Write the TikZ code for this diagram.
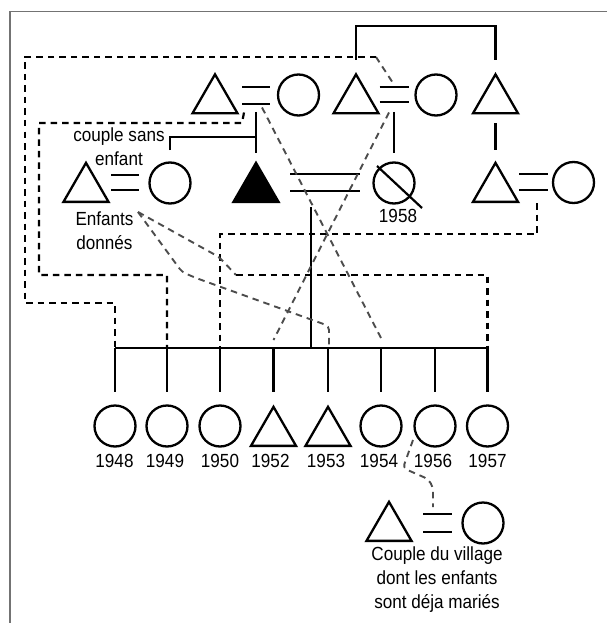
\documentclass[tikz,border=0pt]{standalone}
\usepackage{fontspec}
\setmainfont{Liberation Sans}
\newfontfamily\condfont[FakeStretch=0.9]{Liberation Sans}
\usetikzlibrary{shapes.geometric,calc}
\begin{document}
\begin{tikzpicture}[x=1pt,y=-1pt,
  shp/.style={draw,line width=2.3pt,inner sep=0pt},
  tri/.style={shp,regular polygon,regular polygon sides=3,minimum size=52pt,anchor=side 2},
  ftri/.style={tri,fill=black},
  cir/.style={shp,circle,minimum size=41pt},
  sol/.style={line width=2.2pt},
  dsh/.style={line width=2.2pt,dash pattern=on 6.5pt off 5pt},
  gdsh/.style={line width=1.9pt,black!70,dash pattern=on 6.5pt off 5pt,rounded corners=4pt},
  lbl/.style={font=\condfont\fontsize{19}{24}\selectfont,inner sep=0pt,align=center},
  yr/.style={font=\condfont\fontsize{19}{20}\selectfont,inner sep=0pt,anchor=base},
  framel/.style={line width=1.6pt,black!55}]
\useasboundingbox (0,0) rectangle (607,623);
% frame
\coordinate (fTL) at (10,11.5);
\coordinate (fTR) at (607,11.5);
\coordinate (fBL) at (10,623);
\draw[framel] (fTR) -- (fTL) -- (fBL);

% generation 1
\node[tri] (gf1) at (215,114.5) {};
\node[cir] (gm1) at (298.5,95) {};
\node[tri] (gf2) at (356,114.5) {};
\node[cir] (gm2) at (436,95) {};
\node[tri] (gu) at (495.5,114.5) {};
\coordinate (m1) at (256,95.5);
\coordinate (m2) at (394,94.5);

% generation 2
\node[tri] (lt) at (86,203) {};
\node[cir] (lc) at (170,183) {};
\node[ftri] (ego) at (256,203) {};
\node[cir] (mc) at (394,183) {};
\node[tri] (rt) at (495.5,203) {};
\node[cir] (rc) at (573.5,182.5) {};
\coordinate (mL) at (125,182.5);
\coordinate (mE) at (325,182.5);
\coordinate (mR) at (533.5,182);
\draw[line width=2.2pt] ($(mc)+(-17,-17)$) -- ($(mc)+(28,25)$);
\node[yr] (y58) at (398,222) {1958};

% labels
\node[lbl] (csans) at (119,147) {couple sans\\enfant};
\node[lbl] (enf) at (104.5,230.5) {Enfants\\donnés};

% children
\node[cir] (c48) at (115,426) {};
\node[cir] (c49) at (167,426) {};
\node[cir] (c50) at (220,426) {};
\node[tri] (c52) at (273.5,447) {};
\node[tri] (c53) at (328,447) {};
\node[cir] (c54) at (381,426) {};
\node[cir] (c56) at (435,426) {};
\node[cir] (c57) at (487.5,426) {};
\node[yr] (l48) at (114.5,467) {1948};
\node[yr] (l49) at (165,467) {1949};
\node[yr] (l50) at (220,467) {1950};
\node[yr] (l52) at (270.5,467) {1952};
\node[yr] (l53) at (326,467) {1953};
\node[yr] (l54) at (379,467) {1954};
\node[yr] (l56) at (433,467) {1956};
\node[yr] (l57) at (487.5,467) {1957};

% village couple
\node[tri] (vt) at (389,542) {};
\node[cir] (vc) at (483,523) {};
\coordinate (mV) at (437.5,523);
\node[lbl] (vtxt) at (437,579.5) {Couple du village\\dont les enfants\\sont déja mariés};

% marriage signs
\foreach \m/\w/\d in {m1/14/8.5, m2/14.5/7.5, mL/14/7.5, mE/35/8.5, mR/14.5/8, mV/14.5/9}{
  \draw[sol] ($(\m)+(-\w,-\d)$) -- ($(\m)+(\w,-\d)$);
  \draw[sol] ($(\m)+(-\w,\d)$) -- ($(\m)+(\w,\d)$);
}

% solid descent lines
\draw[sol] (gf2 |- 0,60) -- (gf2 |- 0,26) -- (gu |- 0,26) -- (gu |- 0,60);
\draw[sol] (gu |- 0,123) -- (rt |- 0,150);
\draw[sol] (m1 |- 0,112) -- (ego |- 0,153);
\draw[sol] (lc |- 0,150) -- (lc |- 0,137) -- (ego |- 0,137);
\draw[sol] (m2 |- 0,112) -- (mc |- 0,153);
\coordinate (sibL) at (115,348);
\coordinate (sibR) at (487.5,348);
\coordinate (dE) at (311,207);
\draw[sol] (sibL) -- (sibR);
\draw[sol] (dE) -- (dE |- sibL);
\foreach \c in {c48,c49,c50,c52,c53,c54,c56,c57}{
  \draw[sol] (\c |- sibL) -- (\c |- 0,392);
}

% adoption lines (dashed)
\coordinate (o1) at (376,57);
\draw[gdsh] ($(m2)+(-2,-13)$) -- (o1);
\draw[dsh] (o1) -- (25,57) -- (25,303) -- (c48 |- 0,303) -- (c48 |- sibL);
\draw[dsh] ($(m1)+(-12,17)$) -- (242,123) -- (39,123) -- (39,275) -- (c49 |- 0,275) -- (c49 |- sibL);
\draw[dsh] ($(mR)+(3.5,21)$) -- (537,234) -- (c50 |- 0,234) -- (c50 |- sibL);
\coordinate (ed) at (138,212);
\coordinate (a1) at (236,275);
\draw[gdsh] (ed) -- (219,257) -- (a1);
\draw[dsh] (a1) -- (c57 |- a1) -- (c57 |- sibL);
\draw[gdsh] (ed) -- (182,272) -- (196,278) -- (329,326) -- (329,348);
\draw[gdsh] ($(m1)+(6,12)$) -- (c54 |- 0,338);
\draw[gdsh] ($(m2)+(-5,18)$) -- (c52 |- 0,340);
\coordinate (vtop) at (433,507);
\draw[gdsh] (413,440) -- (403,468) -- (428,479) -- (433,487) -- (vtop);
\end{tikzpicture}
\end{document}
